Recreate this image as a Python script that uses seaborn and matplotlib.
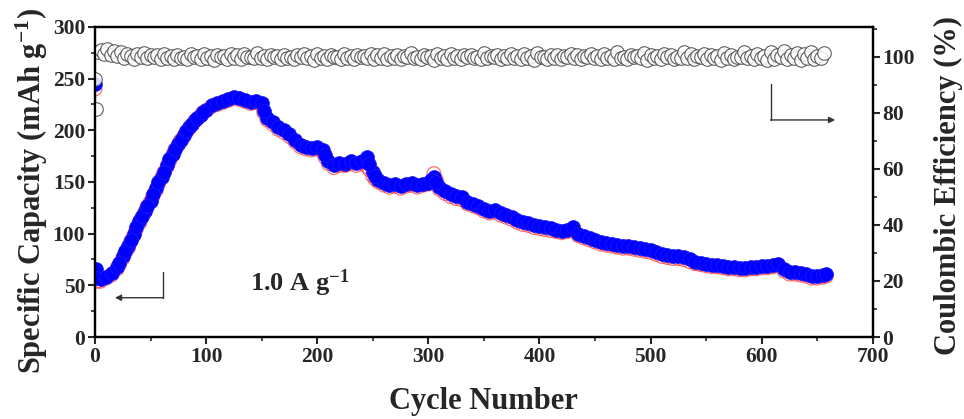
import matplotlib
matplotlib.use("Agg")
import matplotlib.pyplot as plt
import seaborn as sns
import pandas as pd
from matplotlib.ticker import MultipleLocator

# ---------------- data ----------------
cycles = [0, 1, 2] + list(range(5, 660, 5)) + [658]

charge_capacity = [
    245, 66, 57, 56, 58, 62, 68, 78, 88, 100,
    112, 122, 132, 144, 155, 166, 177, 187, 195, 203,
    210, 215, 220, 224, 226, 228, 230, 232, 231, 229,
    227, 228, 226, 212, 208, 203, 200, 196, 191, 186,
    184, 183, 184, 181, 170, 166, 168, 167, 170, 168,
    170, 174, 160, 152, 149, 147, 148, 146, 148, 149,
    147, 148, 149, 155, 145, 141, 138, 136, 135, 131,
    129, 127, 124, 122, 123, 120, 118, 116, 113, 111,
    110, 108, 107, 106, 105, 104, 103, 104, 106, 100,
    98, 96, 94, 92, 91, 90, 89, 88, 88, 87,
    86, 85, 84, 82, 80, 79, 78, 78, 77, 75,
    73, 72, 71, 70, 70, 69, 68, 68, 67, 67,
    68, 68, 69, 69, 70, 71, 66, 63, 63, 62,
    61, 59, 59, 60, 61,
]

discharge_capacity = [
    240, 60, 54, 54, 57, 60, 66, 76, 86, 98,
    110, 121, 131, 142, 154, 165, 176, 186, 194, 202,
    209, 214, 219, 223, 225, 227, 229, 231, 230, 228,
    226, 227, 224, 210, 206, 201, 198, 194, 189, 184,
    182, 181, 182, 179, 168, 164, 166, 166, 168, 166,
    168, 165, 156, 150, 147, 145, 146, 144, 146, 147,
    145, 147, 148, 158, 143, 139, 136, 134, 133, 129,
    127, 125, 122, 120, 121, 118, 116, 114, 111, 109,
    108, 106, 105, 104, 103, 102, 101, 102, 103, 98,
    96, 94, 92, 90, 89, 88, 87, 86, 86, 85,
    84, 83, 82, 80, 78, 77, 76, 76, 75, 73,
    71, 70, 69, 68, 68, 67, 66, 66, 65, 65,
    66, 66, 67, 67, 68, 69, 64, 61, 61, 60,
    59, 57, 57, 58, 59,
]

# extra cycles read where the curve changes quickly
cycles_extra = [22, 27, 32, 37, 42, 47, 52, 57, 62, 67, 72, 77, 82, 87,
                92, 97, 152, 207, 247, 252, 302, 307]
charge_extra = [72, 83, 94, 106, 117, 127, 138, 150, 160, 172, 182, 191,
                199, 206, 212, 218, 219, 176, 167, 156, 152, 150]
discharge_extra = [70, 81, 92, 104, 115, 126, 136, 148, 159, 170, 181, 190,
                   198, 205, 211, 217, 217, 174, 162, 153, 150, 152]

ce_cycles = [0, 1] + list(range(2, 658, 3))
coulombic_eff = [
    92.0, 81.5, 101.8, 102.6, 101.2, 103.0, 100.8, 102.2, 100.4, 101.6,
    99.6, 101.0, 100.2, 99.4, 100.9, 99.8, 101.3, 99.5, 100.6, 99.9,
    100.7, 99.3, 101.1, 99.7, 100.3, 99.1, 100.8, 99.6, 100.1, 99.4,
    100.9, 99.8, 100.4, 99.2, 101.2, 99.6, 100.5, 99.0, 100.7, 99.9,
    100.2, 99.4, 101.0, 99.7, 100.6, 99.3, 100.9, 99.8, 100.1, 99.5,
    101.3, 99.6, 100.4, 99.1, 100.8, 99.9, 100.3, 99.4, 100.7, 99.7,
    100.0, 99.2, 100.6, 99.8, 101.1, 99.5, 100.2, 99.0, 100.9, 99.6,
    100.4, 99.3, 100.8, 99.9, 100.1, 99.4, 101.2, 99.7, 100.5, 99.2,
    100.7, 99.8, 100.3, 99.5, 100.9, 99.1, 100.6, 99.7, 101.0, 99.4,
    100.2, 99.6, 100.8, 99.3, 100.4, 99.9, 101.4, 99.5, 100.1, 99.2,
    100.7, 99.8, 100.5, 99.0, 100.9, 99.6, 100.3, 99.4, 101.1, 99.7,
    100.2, 99.3, 100.6, 99.9, 100.8, 99.5, 100.0, 99.2, 101.3, 99.6,
    100.4, 99.8, 100.7, 99.1, 100.2, 99.5, 101.0, 99.7, 100.5, 99.3,
    100.9, 99.6, 100.3, 99.0, 101.5, 99.8, 100.1, 99.4, 100.6, 99.7,
    100.8, 99.2, 100.4, 99.9, 101.2, 99.5, 100.7, 99.3, 100.2, 99.8,
    101.0, 99.6, 100.5, 99.1, 100.9, 99.7, 100.3, 99.4, 101.6, 99.5,
    100.1, 99.2, 100.8, 99.9, 100.4, 99.6, 101.3, 99.0, 100.6, 99.7,
    100.2, 99.4, 101.1, 99.8, 100.7, 99.3, 100.0, 99.6, 101.7, 99.5,
    100.9, 99.1, 100.4, 99.8, 101.2, 99.4, 100.6, 99.7, 100.3, 98.9,
    101.4, 99.6, 100.8, 99.3, 100.1, 99.9, 101.9, 99.5, 100.5, 99.2,
    101.0, 99.7, 100.3, 98.8, 101.6, 99.4, 100.7, 99.8, 102.0, 99.3,
    100.6, 99.5, 101.3, 99.0, 100.9, 99.7, 101.8, 99.4, 100.4, 99.6,
    101.5,
]

x_ticks = [0, 100, 200, 300, 400, 500, 600, 700]
left_ticks = [0, 50, 100, 150, 200, 250, 300]
right_ticks = [0, 20, 40, 60, 80, 100]

cap_df = pd.DataFrame({
    "cycle": cycles + cycles_extra,
    "charge": charge_capacity + charge_extra,
    "discharge": discharge_capacity + discharge_extra,
})
ce_df = pd.DataFrame({"cycle": ce_cycles, "ce": coulombic_eff})

# ---------------- style ----------------
sns.set_style("ticks")
plt.rcParams["font.family"] = ["Liberation Serif", "DejaVu Serif"]
plt.rcParams["font.weight"] = "bold"
plt.rcParams["mathtext.fontset"] = "custom"
plt.rcParams["mathtext.rm"] = "Liberation Serif:bold"
plt.rcParams["mathtext.bf"] = "Liberation Serif:bold"
plt.rcParams["mathtext.it"] = "Liberation Serif:bold:italic"
plt.rcParams["mathtext.default"] = "bf"

fig = plt.figure(figsize=(9.64, 4.19), dpi=100)
ax = fig.add_axes([0.0985, 0.1957, 0.807, 0.740])
ax2 = ax.twinx()

# capacity (left axis)
sns.scatterplot(data=cap_df, x="cycle", y="discharge", ax=ax, s=100, marker="o",
                facecolor="none", edgecolor="#ff4040", linewidth=0.9,
                alpha=0.75, zorder=2, legend=False)
sns.scatterplot(data=cap_df, x="cycle", y="charge", ax=ax, s=100, marker="o",
                color="#0000ff", edgecolor="#1a1aff", linewidth=0.5,
                zorder=3, legend=False)

# coulombic efficiency (right axis)
sns.scatterplot(data=ce_df, x="cycle", y="ce", ax=ax2, s=95, marker="o",
                facecolor="white", edgecolor="#444444", linewidth=0.8,
                alpha=0.85, legend=False)

ax.set_xlim(0, 700)
ax.set_ylim(0, 300)
ax2.set_ylim(0, 110.7)

ax.set_xticks(x_ticks)
ax.set_yticks(left_ticks)
ax2.set_yticks(right_ticks)
ax.xaxis.set_minor_locator(MultipleLocator(50))
ax.yaxis.set_minor_locator(MultipleLocator(25))
ax2.yaxis.set_minor_locator(MultipleLocator(10))

for a in (ax, ax2):
    for sp in a.spines.values():
        sp.set_linewidth(1.6)
        sp.set_color("black")
        sp.set_visible(True)
    a.tick_params(which="major", direction="out", length=5, width=1.5,
                  labelsize=15.5, pad=2)
    a.tick_params(which="minor", direction="out", length=3, width=1.2)

ax.tick_params(axis="y", which="both", left=True, right=False)
ax.tick_params(axis="x", which="both", top=False)
ax2.tick_params(axis="y", which="both", right=True, left=False)
for lab in ax.get_xticklabels() + ax.get_yticklabels() + ax2.get_yticklabels():
    lab.set_fontweight("bold")

ax.set_xlabel("Cycle Number", fontsize=22, fontweight="bold")
ax.set_ylabel("Specific Capacity (mAh g$^{-1}$)", fontsize=22, fontweight="bold")
ax2.set_ylabel("Coulombic Efficiency (%)", fontsize=22, fontweight="bold")
ax.xaxis.set_label_coords(0.5, -0.16)
ax.yaxis.set_label_coords(-0.058, 0.47)
ax2.yaxis.set_label_coords(1.078, 0.49)

ax.text(184, 52, "1.0 A g$^{-1}$", fontsize=19, fontweight="bold",
        ha="center", va="center")

# guide arrows
arrow_col = "#333333"
ax.plot([61, 61], [63, 38], color=arrow_col, lw=1.0)
ax.annotate("", xy=(18, 38), xytext=(61, 38),
            arrowprops=dict(arrowstyle="-|>", color=arrow_col, lw=1.0,
                            mutation_scale=9, shrinkA=0, shrinkB=0))
ax.plot([608, 608], [245, 210], color=arrow_col, lw=1.0)
ax.annotate("", xy=(666, 210), xytext=(608, 210),
            arrowprops=dict(arrowstyle="-|>", color=arrow_col, lw=1.0,
                            mutation_scale=9, shrinkA=0, shrinkB=0))

fig.savefig("out.png", dpi=100)
